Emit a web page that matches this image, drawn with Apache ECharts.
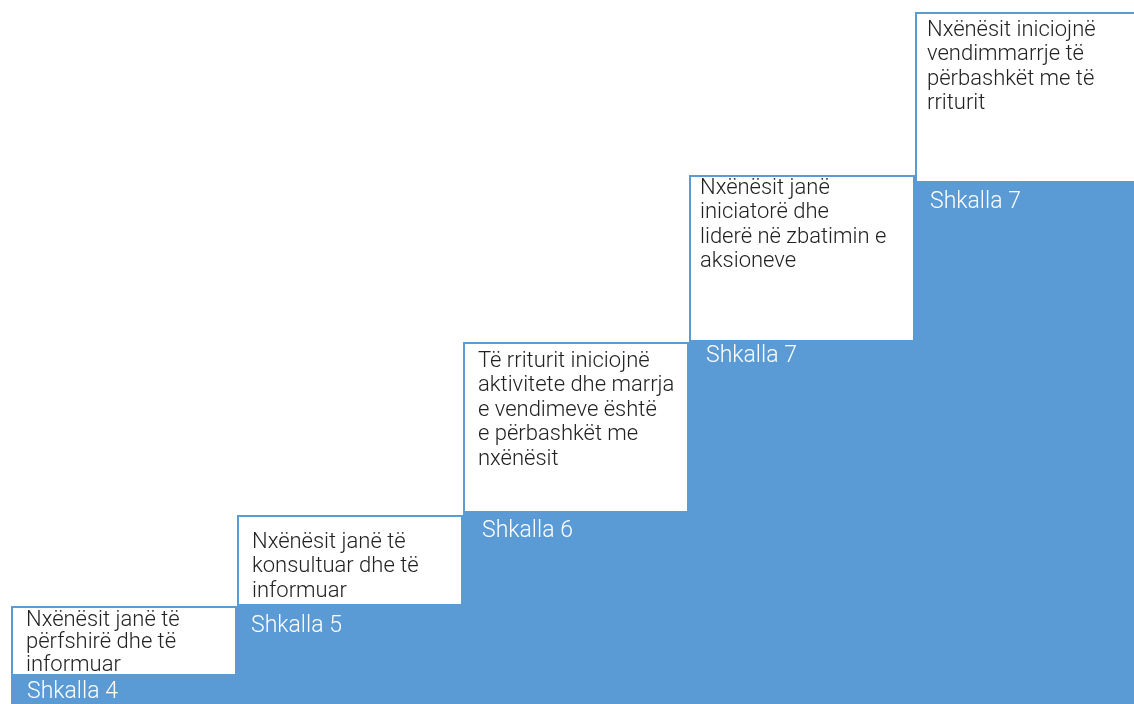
<!DOCTYPE html>
<html>
<head>
<meta charset="utf-8">
<script src="https://cdn.jsdelivr.net/npm/echarts@6/dist/echarts.min.js"></script>
<style>
html,body{margin:0;padding:0;background:#fff;overflow:hidden;width:1134px;height:704px;}
#chart{width:1150px;height:704px;}
</style>
</head>
<body>
<div id="chart"></div>
<script>
// Step labels shown in the blue part of each column
var stepLabels = ['Shkalla 4', 'Shkalla 5', 'Shkalla 6', 'Shkalla 7', 'Shkalla 7'];
// Description text in each white box
var descriptions = [
  'Nxënësit janë të\npërfshirë dhe të\ninformuar',
  'Nxënësit janë të\nkonsultuar dhe të\ninformuar',
  'Të rriturit iniciojnë\naktivitete dhe marrja\ne vendimeve është\ne përbashkët me\nnxënësit',
  'Nxënësit janë\niniciatorë dhe\nliderë në zbatimin e\naksioneve',
  'Nxënësit iniciojnë\nvendimmarrje të\npërbashkët me të\nrriturit'
];
// Height of the blue (base) part of each step
var baseValues = [28, 98, 191, 362, 521];
// Height of the white box above each base
var boxValues = [70, 91, 171, 167, 171];

var BLUE = '#5B9BD5';
var boxLabelPos = [[15, 3], [15, 15], [15, 7], [11, 1], [12, 6]];
var boxLineHeight = [22.5, 24.5, 24.5, 24.5, 24.5];
var stepLabelPos = [[16, 4.5], [14, 8.5], [19, 6.5], [17, 2.5], [15, 7.5]];

var chart = echarts.init(document.getElementById('chart'), null, {renderer: 'canvas'});
chart.setOption({
  animation: false,
  grid: {left: 11, top: 0, width: 1130, height: 704, outerBoundsMode: 'none'},
  xAxis: {type: 'category', data: descriptions, show: false, boundaryGap: true},
  yAxis: {type: 'value', min: 0, max: 704, show: false},
  series: [
    {
      type: 'bar', stack: 'steps', barWidth: '100%', barCategoryGap: '0%',
      itemStyle: {color: BLUE},
      data: baseValues.map(function (v, i) {
        return {
          value: v,
          label: {
            show: true, position: stepLabelPos[i], align: 'left', verticalAlign: 'top',
            formatter: stepLabels[i], color: '#ffffff', fontSize: 23, lineHeight: 24,
            fontFamily: 'Roboto', fontWeight: 300
          }
        };
      })
    },
    {
      type: 'bar', stack: 'steps', barWidth: '100%', barCategoryGap: '0%',
      itemStyle: {color: '#ffffff', borderColor: BLUE, borderWidth: 2},
      data: boxValues.map(function (v, i) {
        return {
          value: v,
          label: {
            show: true, position: boxLabelPos[i], align: 'left', verticalAlign: 'top',
            formatter: descriptions[i], color: '#222222', fontSize: 22, lineHeight: boxLineHeight[i],
            fontFamily: 'Roboto', fontWeight: 300
          }
        };
      })
    }
  ]
});
</script>
</body>
</html>
